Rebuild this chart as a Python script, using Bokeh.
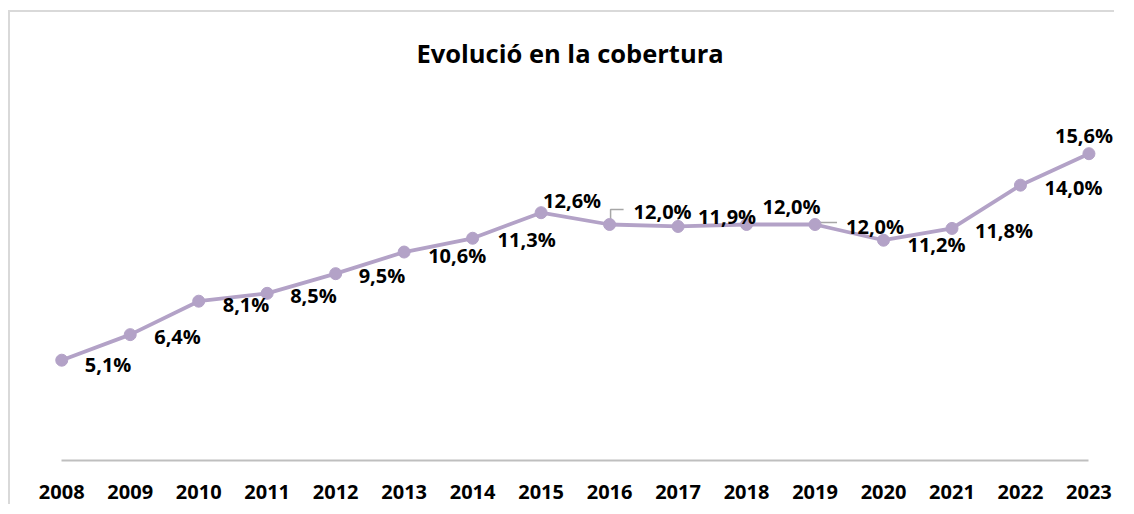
from bokeh.plotting import figure
from bokeh.models import ColumnDataSource, Range1d, FixedTicker
from bokeh.embed import file_html
from bokeh.resources import INLINE
from bokeh.core.properties import value

# ---- data ----
years = [2008, 2009, 2010, 2011, 2012, 2013, 2014, 2015,
         2016, 2017, 2018, 2019, 2020, 2021, 2022, 2023]
coverage = [5.1, 6.4, 8.1, 8.5, 9.5, 10.6, 11.3, 12.6,
            12.0, 11.9, 12.0, 12.0, 11.2, 11.8, 14.0, 15.6]
title_text = "Evolució en la cobertura"
labels = [f"{v:.1f}".replace(".", ",") + "%" for v in coverage]

# label placement (screen pixels: left edge / vertical centre relative to point)
label_dx = [23, 24, 24, 23, 23, 24, 25, 2, 24, 20, 16, 31, 24, 23, 24, -34]
label_dy = [4, 2, 3, 2, 2, 3, 1, -12, -13, -10, -18, 2, 4, 2, 2, -18]

# leader lines (screen pixel offsets from the point)
leader_years = [2016, 2017, 2019]
leader_dx = [[1, 1, 14], [0, 0], [5, 22]]
leader_dy = [[-5, -15, -15], [-5, -9], [-2, -2]]

# ---- layout ----
PX_X, PX_Y = 68.48, 19.72
W, H = 1106, 494
BL, BR, BT, BB = 17, 0, 77, 46
X0 = 2007.5
X1 = X0 + (W - BL - BR) / PX_X
Y0 = 0
Y1 = (H - BT - BB) / PX_Y

LINE_COLOR = "#B3A2C7"
FONT = "Open Sans"

p = figure(width=W, height=H, x_range=Range1d(X0, X1), y_range=Range1d(Y0, Y1),
           output_backend="svg", toolbar_location=None,
           min_border_left=BL, min_border_right=BR, min_border_top=BT, min_border_bottom=BB)
p.styles = {"margin-left": "8px", "margin-top": "10px",
            "border-left": "2px solid #D9D9D9", "border-top": "2px solid #D9D9D9"}

p.title.text = title_text
p.title.align = "left"
p.title.text_font = FONT
p.title.text_font_style = "bold"
p.title.text_font_size = "25.5px"
p.title.text_color = "#000000"
p.title.standoff = 42
p.title.offset = 389

p.outline_line_color = None
p.xgrid.visible = False
p.ygrid.visible = False
p.yaxis.visible = False

ax = p.xaxis[0]
ax.ticker = FixedTicker(ticks=years)
ax.bounds = (years[0], years[-1])
ax.axis_line_color = "#BFBFBF"
ax.axis_line_width = 2
ax.major_tick_line_color = None
ax.minor_tick_line_color = None
ax.major_label_text_font = FONT
ax.major_label_text_font_style = "bold"
ax.major_label_text_font_size = "20px"
ax.major_label_text_color = "#000000"
ax.major_label_standoff = 18

# leader lines
lx, ly = [], []
for yr, dxs, dys in zip(leader_years, leader_dx, leader_dy):
    v = coverage[years.index(yr)]
    lx.append([yr + d / PX_X for d in dxs])
    ly.append([v - d / PX_Y for d in dys])
p.multi_line(xs=lx, ys=ly, line_color="#A6A6A6", line_width=1.5)

src = ColumnDataSource(dict(x=years, y=coverage, label=labels, dx=label_dx, dy=label_dy))
p.line("x", "y", source=src, line_color=LINE_COLOR, line_width=3.8)
p.scatter("x", "y", source=src, size=12, fill_color=LINE_COLOR, line_color=LINE_COLOR)
p.text("x", "y", text="label", source=src, x_offset="dx", y_offset="dy",
       text_align="left", text_baseline="middle",
       text_font=value(FONT), text_font_style="bold", text_font_size="20px",
       text_color="#000000")

open("out.html", "w").write(file_html(p, INLINE))
